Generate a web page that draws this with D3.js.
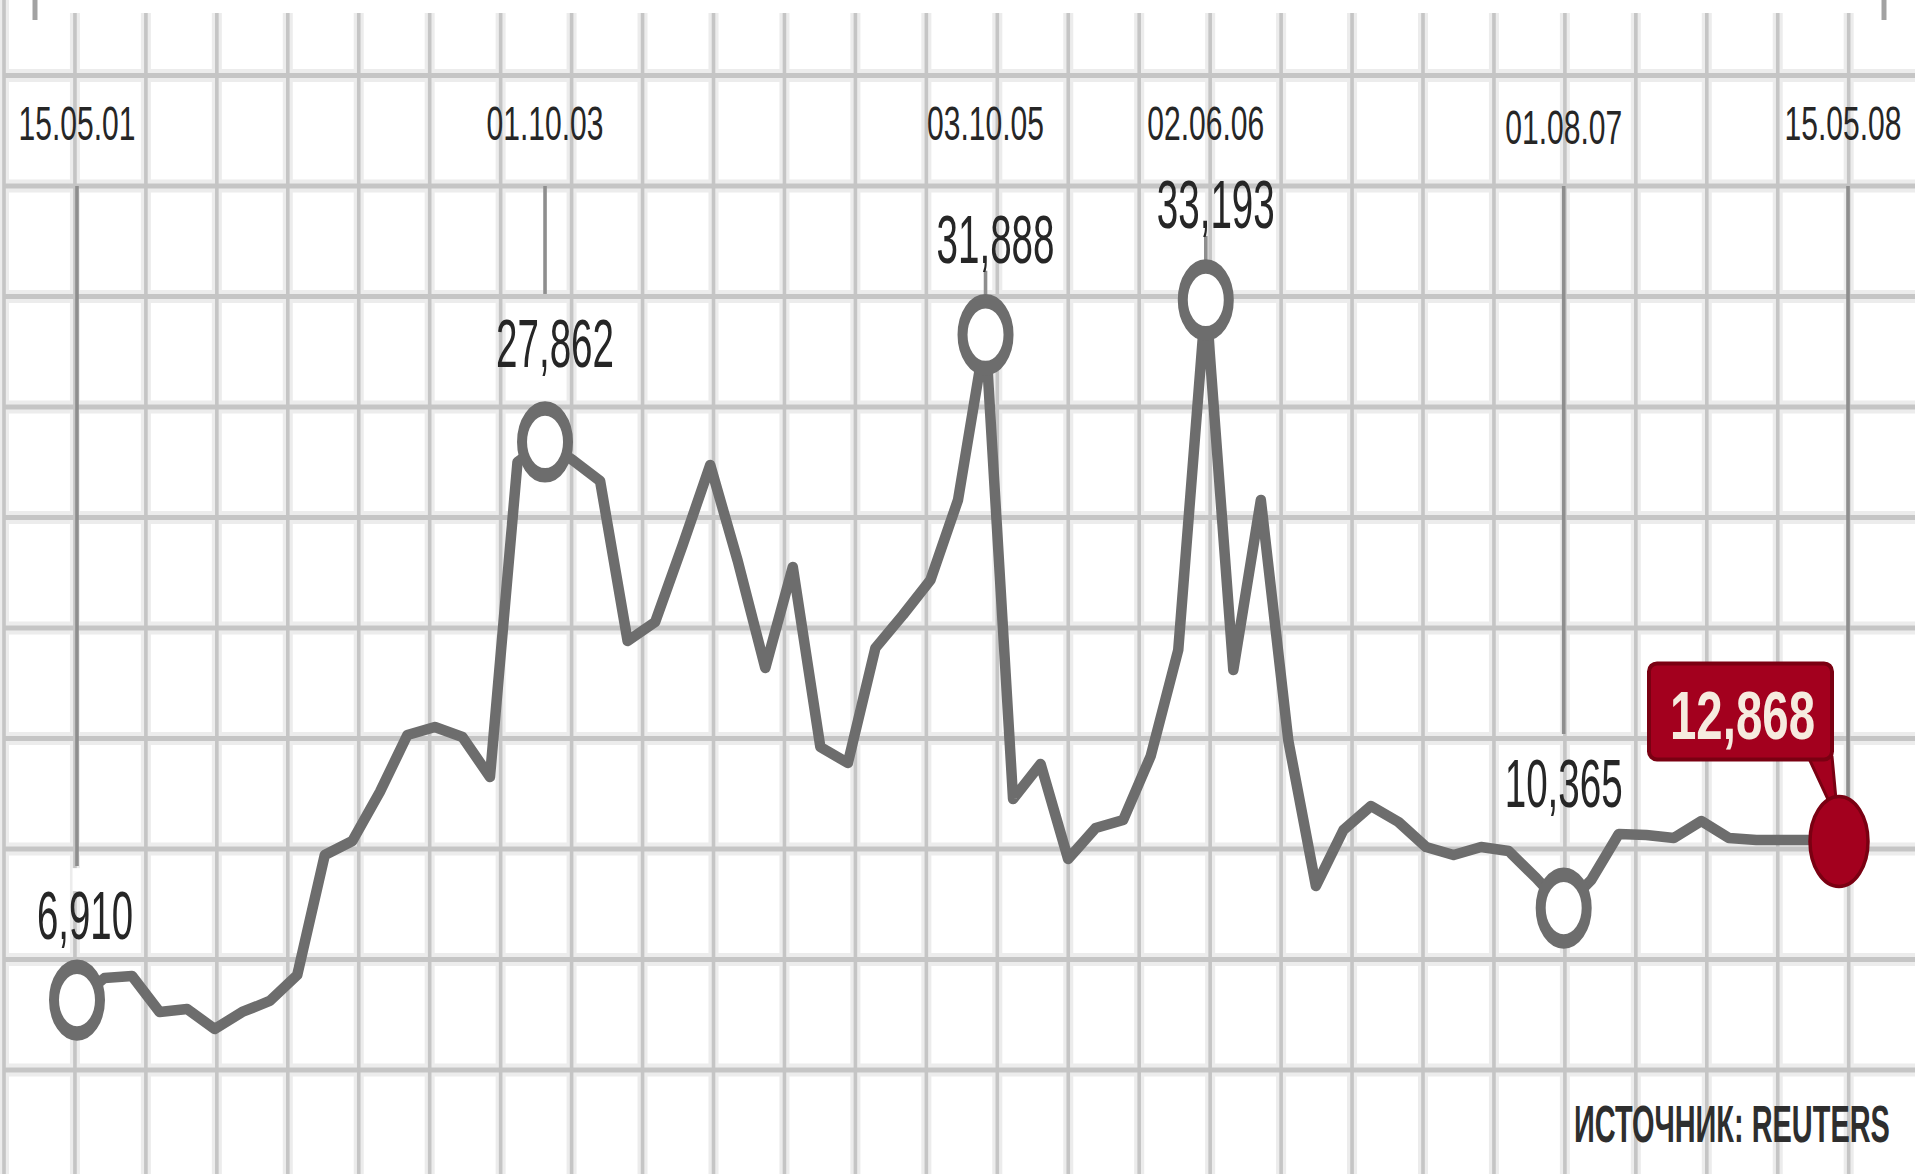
<!DOCTYPE html>
<html>
<head>
<meta charset="utf-8">
<script src="https://cdn.jsdelivr.net/npm/d3@7"></script>
<style>
  html, body { margin: 0; padding: 0; background: #fff; }
  svg { display: block; }
</style>
</head>
<body>
<svg id="chart" width="1915" height="1174"></svg>
<script>
// Dates marked along the top and the observation each one points to
const dateLabels = ["15.05.01", "01.10.03", "03.10.05", "02.06.06", "01.08.07", "15.05.08"];
const dateIndex = [0, 17, 33, 41, 54, 64];

// Series, one value per observation
const values = [
  6910, 7740, 7815, 6464, 6577, 5826, 6464, 6877, 7853, 12357, 12883, 14722, 16862, 17162, 16787, 15285, 27110,
  27862, 27185, 26396, 20390, 21104, 23994, 26997, 23393, 19377, 23168, 16411, 15811, 20128, 21366, 22680, 25683,
  31888, 14459, 15773, 12207, 13371, 13671, 16073, 20053,
  33193, 19302, 25683, 16637, 11194, 13296, 14197, 13596, 12658, 12357, 12658, 12508, 11494,
  10365, 11419, 13146, 13108, 12995, 13634, 12995, 12920, 12920, 12920, 12868
];

const sourceText = "ИСТОЧНИК: REUTERS";

// ---- layout ----
const W = 1915, H = 1174;
const FONT = "'Liberation Sans', Arial, sans-serif";
const LINE_GREY = "#6d6d6d";
const INK = "#262626";
const RED = "#a3001e", RED_DARK = "#7a0012";

// per-annotation placement of the value label relative to its marker
const annLayout = [
  { dx: 8,  dy: -61,  len: 96,  upper: true,  lower: false, clear: true,  dateY: 140 },
  { dx: 10, dy: -75,  len: 118, upper: true,  lower: false, clear: false, dateY: 140 },
  { dx: 10, dy: -72,  len: 118, upper: false, lower: true,  clear: false, dateY: 140 },
  { dx: 10, dy: -72,  len: 118, upper: false, lower: true,  clear: false, dateY: 140 },
  { dx: 0,  dy: -101, len: 118, upper: true,  lower: false, clear: false, dateY: 144 },
  { box: true, dateDx: 4, connDx: 9, len: 145, dateY: 140 }
];

const svg = d3.select("#chart");
svg.append("rect").attr("width", W).attr("height", H).attr("fill", "#fff");

const x = d3.scaleLinear().domain([0, values.length - 1]).range([77, 1839]);
const y = d3.scaleLinear().domain([0, 40000]).range([1184.2, 118.6]);
const fmt = d3.format(",");

// narrow lettering: set the text, then squeeze it horizontally to the wanted width
function narrowText(parent, o) {
  const t = parent.append("text")
    .attr("font-family", FONT)
    .attr("font-size", o.size)
    .attr("font-weight", o.weight || "normal")
    .attr("fill", o.fill)
    .attr("text-anchor", o.anchor || "middle")
    .text(o.text);
  const w = t.node().getComputedTextLength();
  t.attr("transform", `translate(${o.x},${o.y}) scale(${(o.width / w).toFixed(4)},1)`);
  return t;
}

// ---- squared paper ----
const gridCols = d3.range(27).map(k => 4 + 70.95 * k);
const gridRows = d3.range(10).map(k => 75.5 + 110.5 * k);
const grid = svg.append("g");
[["#ececec", 10, 13], ["#c5c5c5", 3.6, 5.2]].forEach(([c, wv, wh]) => {
  grid.append("g").selectAll("line").data(gridCols).join("line")
    .attr("x1", d => d).attr("x2", d => d)
    .attr("y1", (d, i) => i === 0 ? 0 : 13).attr("y2", H)
    .attr("stroke", c).attr("stroke-width", wv);
  grid.append("g").selectAll("line").data(gridRows).join("line")
    .attr("x1", 4).attr("x2", W)
    .attr("y1", d => d).attr("y2", d => d)
    .attr("stroke", c).attr("stroke-width", wh);
});

// small marks on the top edge
svg.append("g").selectAll("line").data([35, 1884]).join("line")
  .attr("x1", d => d).attr("x2", d => d).attr("y1", 0).attr("y2", 20)
  .attr("stroke", "#a2a2a2").attr("stroke-width", 5);

// ---- key points ----
const keyPoints = dateIndex.map((idx, j) => ({
  idx, date: dateLabels[j], value: values[idx], lay: annLayout[j],
  cx: x(idx), cy: y(values[idx])
}));

const connTop = 186;
const capH = 48;

// leader lines from the date row down to each value
const knock = svg.append("g").attr("stroke", "#fff").attr("stroke-width", 9);
const conn = svg.append("g").attr("stroke", "#8e8e8e").attr("stroke-width", 3.6);
keyPoints.forEach(p => {
  const L = p.lay;
  if (L.box) {
    conn.append("line")
      .attr("x1", p.cx + L.connDx).attr("x2", p.cx + L.connDx)
      .attr("y1", connTop).attr("y2", p.cy - 40);
    return;
  }
  const base = p.cy + L.dy;
  if (L.upper) {
    const end = base - capH - 25;
    conn.append("line").attr("x1", p.cx).attr("x2", p.cx)
      .attr("y1", connTop).attr("y2", end);
    if (L.clear) {
      knock.append("line").attr("x1", p.cx).attr("x2", p.cx)
        .attr("y1", end + 2).attr("y2", base - capH);
    }
  }
  if (L.lower) {
    conn.append("line").attr("x1", p.cx).attr("x2", p.cx)
      .attr("y1", base + 8).attr("y2", p.cy - 38);
  }
});

// ---- the series line ----
const line = d3.line().x((d, i) => x(i)).y(d => y(d));
svg.append("path").datum(values)
  .attr("d", line)
  .attr("fill", "none")
  .attr("stroke", LINE_GREY)
  .attr("stroke-width", 10.5)
  .attr("stroke-linejoin", "round")
  .attr("stroke-linecap", "round");

// open ring markers
keyPoints.filter(p => !p.lay.box).forEach(p => {
  svg.append("g")
    .attr("transform", `translate(${p.cx},${p.cy}) scale(1,1.45)`)
    .append("circle")
    .attr("r", 23)
    .attr("fill", "#fff")
    .attr("stroke", LINE_GREY)
    .attr("stroke-width", 10);
});

// value labels
const labels = svg.append("g");
keyPoints.filter(p => !p.lay.box).forEach(p => {
  narrowText(labels, {
    x: p.cx + p.lay.dx, y: p.cy + p.lay.dy, size: 68, fill: INK,
    width: p.lay.len, text: fmt(p.value)
  });
});

// date row
const dates = svg.append("g");
keyPoints.forEach(p => {
  narrowText(dates, {
    x: p.cx + (p.lay.dateDx || 0), y: p.lay.dateY, size: 48, fill: INK,
    width: 117, text: p.date
  });
});

// latest value: red callout and dot
keyPoints.filter(p => p.lay.box).forEach(p => {
  const bw = 183, bh = 96;
  const right = p.cx - 7, bottom = p.cy - 82;
  const left = right - bw, top = bottom - bh;
  const g = svg.append("g");
  g.append("polygon")
    .attr("points", [
      [right - 24, bottom - 3], [right, bottom - 3],
      [p.cx - 3, p.cy - 42], [p.cx - 11, p.cy - 42]
    ].map(q => q.join(",")).join(" "))
    .attr("fill", RED).attr("stroke", RED_DARK).attr("stroke-width", 3)
    .attr("stroke-linejoin", "round");
  g.append("rect")
    .attr("x", left).attr("y", top).attr("width", bw).attr("height", bh)
    .attr("rx", 8)
    .attr("fill", RED).attr("stroke", RED_DARK).attr("stroke-width", 4);
  narrowText(g, {
    x: left + bw / 2 + 2, y: top + 76, size: 68, weight: "bold",
    fill: "#f6ebdf", width: p.lay.len, text: fmt(p.value)
  });
  g.append("ellipse")
    .attr("cx", p.cx).attr("cy", p.cy).attr("rx", 29).attr("ry", 45)
    .attr("fill", RED).attr("stroke", RED_DARK).attr("stroke-width", 3.5);
});

// source line
narrowText(svg, {
  x: 1574, y: 1142, size: 52, weight: "bold", fill: "#2e2e2e",
  anchor: "start", width: 316, text: sourceText
});
</script>
</body>
</html>
